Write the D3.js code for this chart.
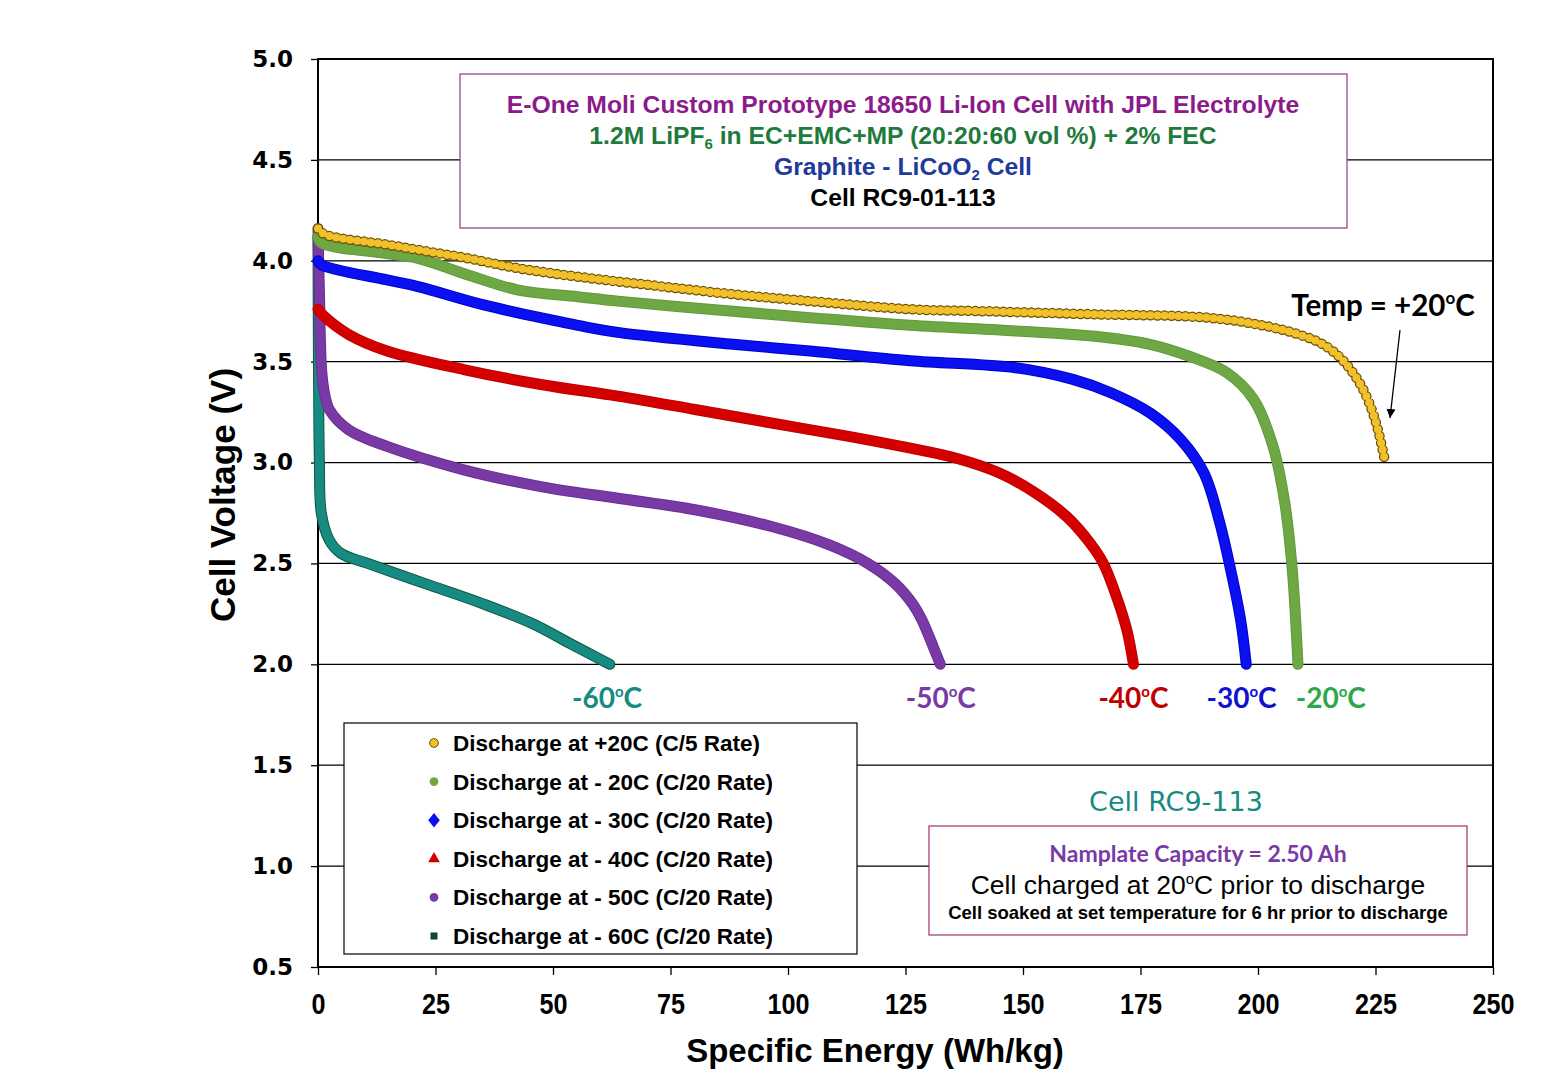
<!DOCTYPE html>
<meta charset="utf-8">
<style>
    body { margin: 0; background: #fff; }
    .tick text { font-weight: bold; }
</style>
<div id="chart"></div>
<script src="https://d3js.org/d3.v7.min.js"></script>
<script>

    // discharge curves: specific energy (Wh/kg) vs cell voltage (V)
    var e20E = [0, 1.4, 14.7, 21.3, 31.9, 42.6, 55.3, 72.0, 88.3, 104.7, 126, 140.2, 164.7, 189.3, 201.6, 209.7, 213.8, 217.9, 222.0, 224.9, 227.1];
    var e20V = [4.16, 4.131, 4.08, 4.054, 4.012, 3.963, 3.921, 3.876, 3.834, 3.80, 3.76, 3.751, 3.735, 3.718, 3.677, 3.627, 3.586, 3.51, 3.379, 3.213, 3.0];

    var m20E = [0, 0.6, 14.2, 21.3, 31.9, 42.6, 55.3, 63.8, 88.3, 104.7, 126, 148.4, 164.7, 177, 185.2, 193.4, 199.1, 203.2, 205.7, 207.3, 208.5];
    var m20V = [4.12, 4.09, 4.037, 4.012, 3.93, 3.855, 3.822, 3.80, 3.75, 3.718, 3.68, 3.652, 3.627, 3.586, 3.528, 3.445, 3.312, 3.08, 2.80, 2.467, 2.0];

    var m30E = [0, 0.7, 14.7, 21.3, 35.5, 49.6, 55.3, 63.8, 88.3, 104.7, 126, 148.4, 160.6, 168.8, 177, 183.6, 188.5, 191.7, 194.2, 196.3, 197.5];
    var m30V = [4.0, 3.98, 3.905, 3.872, 3.78, 3.707, 3.68, 3.645, 3.586, 3.553, 3.505, 3.47, 3.412, 3.345, 3.246, 3.113, 2.948, 2.716, 2.467, 2.22, 2.0];

    var m40E = [0, 1.2, 6.5, 14.7, 31.0, 47.4, 63.8, 80.2, 96.5, 112.9, 125, 136, 145.1, 152.2, 159.3, 164.3, 167.1, 169.9, 172.1, 173.5];
    var m40V = [3.76, 3.727, 3.635, 3.553, 3.461, 3.387, 3.329, 3.263, 3.196, 3.13, 3.076, 3.02, 2.947, 2.856, 2.732, 2.60, 2.50, 2.335, 2.17, 2.0];

    var m50E = [0, 0.3, 0.8, 1.5, 2.4, 6.5, 14.7, 31.0, 47.4, 63.8, 80.2, 96.5, 108.8, 117, 122.8, 126.5, 128.5, 131.2, 132.4];
    var m50V = [4.16, 3.85, 3.45, 3.33, 3.263, 3.163, 3.08, 2.964, 2.881, 2.823, 2.766, 2.683, 2.592, 2.50, 2.40, 2.30, 2.22, 2.07, 2.0];

    var m60E = [0, 0.1, 0.3, 0.7, 2.4, 4.9, 10.6, 22.8, 35.1, 45.8, 53.9, 62.1];
    var m60V = [4.12, 3.5, 3.0, 2.75, 2.616, 2.55, 2.50, 2.40, 2.30, 2.20, 2.10, 2.0];

    var legendLabels = ["Discharge at +20C (C/5 Rate)", "Discharge at - 20C (C/20 Rate)", "Discharge at - 30C (C/20 Rate)",
        "Discharge at - 40C (C/20 Rate)", "Discharge at - 50C (C/20 Rate)", "Discharge at - 60C (C/20 Rate)"];
    var tempLabels = ["-60", "-50", "-40", "-30", "-20"];
    var tempLabelE = [61.5, 132.5, 173.5, 196.5, 215.5];
    var xTicks = [0, 25, 50, 75, 100, 125, 150, 175, 200, 225, 250];
    var yTicks = [0.5, 1.0, 1.5, 2.0, 2.5, 3.0, 3.5, 4.0, 4.5, 5.0];

    var W = 1547, H = 1071;
    var svg = d3.select("#chart").append("svg")
        .attr("width", W).attr("height", H);

    var x = d3.scaleLinear().domain([0, 250]).range([318, 1493]);
    var y = d3.scaleLinear().domain([0.5, 5]).range([967, 59]);

    function pts(es, vs) { return es.map(function (e, i) { return [e, vs[i]]; }); }

    // grid lines
    svg.append("g").selectAll("line")
        .data(yTicks.slice(1, -1))
        .enter().append("line")
        .attr("x1", x(0)).attr("x2", x(250))
        .attr("y1", function (d) { return y(d); }).attr("y2", function (d) { return y(d); })
        .attr("stroke", "#000").attr("stroke-width", 1.2);

    // axes
    svg.append("g")
        .attr("transform", "translate(" + x(0) + ",0)")
        .call(d3.axisLeft(y).tickValues(yTicks).tickFormat(d3.format(".1f")).tickSize(7).tickPadding(18))
        .call(function (g) { g.select(".domain").remove(); })
        .selectAll("text")
        .style("font-family", "'DejaVu Sans', sans-serif")
        .style("font-size", "23px");

    svg.append("g")
        .attr("transform", "translate(0," + y(0.5) + ")")
        .call(d3.axisBottom(x).tickValues(xTicks).tickSize(8).tickPadding(17))
        .call(function (g) { g.select(".domain").remove(); })
        .selectAll("text")
        .style("font-family", "'Liberation Sans', Arial, sans-serif")
        .style("font-size", "30px").attr("dy", "0.75em")
        .attr("transform", "scale(0.84,1)");

    svg.selectAll(".tick line").attr("stroke-width", 1.3);

    // plot frame
    svg.append("rect")
        .attr("x", x(0)).attr("y", y(5))
        .attr("width", x(250) - x(0)).attr("height", y(0.5) - y(5))
        .attr("fill", "none").attr("stroke", "#000").attr("stroke-width", 2);

    // title box
    svg.append("rect").attr("x", 460).attr("y", 74).attr("width", 887).attr("height", 154)
        .attr("fill", "#fff").attr("stroke", "#8a3a8a").attr("stroke-width", 1.2);
    var tFont = "'Liberation Sans', Arial, sans-serif";
    var title = svg.append("g").attr("font-family", tFont).attr("font-weight", "bold")
        .attr("font-size", "24.7px").attr("text-anchor", "middle");
    title.append("text").attr("x", 903).attr("y", 113).attr("fill", "#8b1a8b")
        .text("E-One Moli Custom Prototype 18650 Li-Ion Cell with JPL Electrolyte");
    var t2 = title.append("text").attr("x", 903).attr("y", 144).attr("fill", "#1f7a3e");
    t2.append("tspan").text("1.2M LiPF");
    t2.append("tspan").attr("font-size", "15px").attr("dy", 5).text("6");
    t2.append("tspan").attr("dy", -5).text(" in EC+EMC+MP (20:20:60 vol %) + 2% FEC");
    var t3 = title.append("text").attr("x", 903).attr("y", 175).attr("fill", "#1f3a9c");
    t3.append("tspan").text("Graphite - LiCoO");
    t3.append("tspan").attr("font-size", "15px").attr("dy", 5).text("2");
    t3.append("tspan").attr("dy", -5).text(" Cell");
    title.append("text").attr("x", 903).attr("y", 206).attr("fill", "#000").text("Cell RC9-01-113");

    // curves
    var line = d3.line()
        .x(function (d) { return x(d[0]); })
        .y(function (d) { return y(d[1]); })
        .curve(d3.curveCatmullRom.alpha(0.5));

    var solid = [
        { p: pts(m60E, m60V), c: "#178a82", edge: "#0d5a44" },
        { p: pts(m50E, m50V), c: "#7a3aa6", edge: "#6a2e96" },
        { p: pts(m40E, m40V), c: "#d40000", edge: "#c00000" },
        { p: pts(m30E, m30V), c: "#0a10f0", edge: "#0000d0" },
        { p: pts(m20E, m20V), c: "#6ea844", edge: "#62993c" }
    ];
    solid.forEach(function (s) {
        svg.append("path").attr("d", line(s.p)).attr("fill", "none")
            .attr("stroke", s.edge).attr("stroke-width", 11).attr("stroke-linecap", "round");
        svg.append("path").attr("d", line(s.p)).attr("fill", "none")
            .attr("stroke", s.c).attr("stroke-width", 9).attr("stroke-linecap", "round");
    });

    // +20C curve drawn as a chain of outlined circles
    var warm = line(pts(e20E, e20V));
    svg.append("path").attr("d", warm).attr("fill", "none")
        .attr("stroke", "#6b5000").attr("stroke-width", 10.5)
        .attr("stroke-linecap", "round").attr("stroke-dasharray", "0,7");
    svg.append("path").attr("d", warm).attr("fill", "none")
        .attr("stroke", "#f2c02a").attr("stroke-width", 8)
        .attr("stroke-linecap", "round").attr("stroke-dasharray", "0,7");

    // temperature labels under curve ends
    var cFont = "Lato, 'Open Sans', sans-serif";
    var tempColors = ["#178a82", "#7a3aa6", "#c00000", "#1010d0", "#2aa84a"];
    tempLabels.forEach(function (t, i) {
        var tx = svg.append("text").attr("x", x(tempLabelE[i])).attr("y", 708)
            .attr("text-anchor", "middle").attr("font-family", cFont).attr("font-weight", "bold")
            .attr("font-size", "28px").attr("fill", tempColors[i]);
        tx.append("tspan").text(t);
        tx.append("tspan").attr("font-size", "15px").attr("dy", -11).text("o");
        tx.append("tspan").attr("dy", 11).text("C");
    });

    // Temp annotation
    svg.append("defs").append("marker").attr("id", "arr")
        .attr("viewBox", "0 0 10 10").attr("refX", 10).attr("refY", 5)
        .attr("markerWidth", 7).attr("markerHeight", 9).attr("orient", "auto")
        .append("path").attr("d", "M0,0L10,5L0,10z").attr("fill", "#000");
    var ta = svg.append("text").attr("x", 1383).attr("y", 316).attr("text-anchor", "middle")
        .attr("font-family", cFont).attr("font-weight", "bold").attr("font-size", "29.5px");
    ta.append("tspan").text("Temp = +20");
    ta.append("tspan").attr("font-size", "17px").attr("dy", -12).text("o");
    ta.append("tspan").attr("dy", 12).text("C");
    svg.append("line").attr("x1", 1400).attr("y1", 330).attr("x2", 1390).attr("y2", 418)
        .attr("stroke", "#000").attr("stroke-width", 1.3).attr("marker-end", "url(#arr)");

    // legend
    svg.append("rect").attr("x", 344).attr("y", 723).attr("width", 513).attr("height", 231)
        .attr("fill", "#fff").attr("stroke", "#000").attr("stroke-width", 1.2);
    var lg = svg.append("g");
    var sym = [d3.symbolCircle, d3.symbolCircle, d3.symbolDiamond, d3.symbolTriangle, d3.symbolCircle, d3.symbolSquare];
    var symFill = ["#f2c02a", "#6ea844", "#0a10f0", "#d40000", "#7a3aa6", "#0d4a30"];
    var symSize = [60, 60, 60, 60, 60, 50];
    legendLabels.forEach(function (l, i) {
        var cy = 743 + i * 38.6;
        lg.append("path").attr("d", d3.symbol().type(sym[i]).size(symSize[i])())
            .attr("transform", "translate(434," + cy + ")" + (i === 2 ? " scale(1.4,1)" : ""))
            .attr("fill", symFill[i]).attr("stroke", i === 0 ? "#6b5000" : "none").attr("stroke-width", 1);
        lg.append("text").attr("x", 453).attr("y", cy + 8)
            .attr("font-family", "'Liberation Sans', Arial, sans-serif").attr("font-weight", "bold")
            .attr("font-size", "22.5px").text(l);
    });

    // cell info
    svg.append("text").attr("x", 1176).attr("y", 811).attr("text-anchor", "middle")
        .attr("font-family", "'DejaVu Sans', sans-serif")
        .attr("font-size", "27px").attr("fill", "#178a82").text("Cell RC9-113");
    svg.append("rect").attr("x", 929).attr("y", 826).attr("width", 538).attr("height", 109)
        .attr("fill", "#fff").attr("stroke", "#a0306e").attr("stroke-width", 1.2);
    svg.append("text").attr("x", 1198).attr("y", 862).attr("text-anchor", "middle")
        .attr("font-family", cFont).attr("font-weight", "bold").attr("font-size", "23px")
        .attr("fill", "#7a3aa6").text("Namplate Capacity = 2.50 Ah");
    var cc = svg.append("text").attr("x", 1198).attr("y", 894).attr("text-anchor", "middle")
        .attr("font-family", "'Liberation Sans', Arial, sans-serif").attr("font-size", "26.5px").attr("fill", "#000");
    cc.append("tspan").text("Cell charged at 20");
    cc.append("tspan").attr("font-size", "15px").attr("dy", -10).text("o");
    cc.append("tspan").attr("dy", 10).text("C prior to discharge");
    svg.append("text").attr("x", 1198).attr("y", 919).attr("text-anchor", "middle")
        .attr("font-family", "'Liberation Sans', Arial, sans-serif").attr("font-weight", "bold")
        .attr("font-size", "18.5px").attr("fill", "#000")
        .text("Cell soaked at set temperature for 6 hr prior to discharge");

    // axis titles
    svg.append("text").attr("transform", "translate(235," + 495 + ") rotate(-90)")
        .attr("text-anchor", "middle").attr("font-family", tFont).attr("font-weight", "bold")
        .attr("font-size", "35px").text("Cell Voltage (V)");
    svg.append("text").attr("x", 875).attr("y", 1062).attr("text-anchor", "middle")
        .attr("font-family", tFont).attr("font-weight", "bold")
        .attr("font-size", "33px").text("Specific Energy (Wh/kg)");

</script>
